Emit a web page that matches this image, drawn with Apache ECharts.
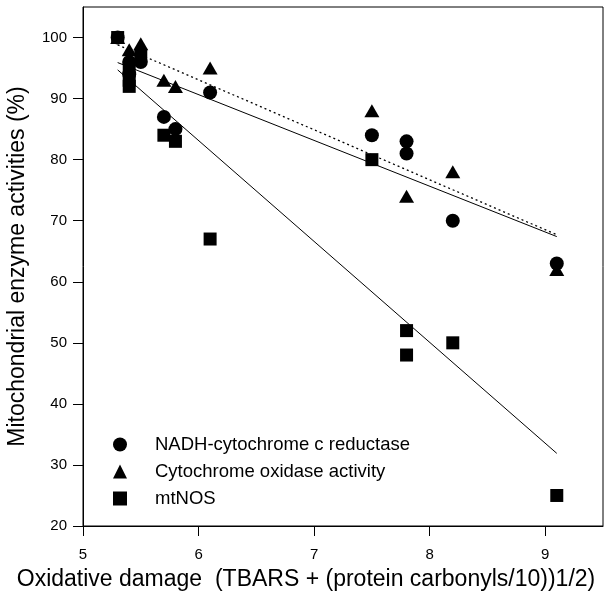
<!DOCTYPE html>
<html>
<head>
<meta charset="utf-8">
<script src="https://cdn.jsdelivr.net/npm/echarts@6/dist/echarts.min.js"></script>
<style>html,body{margin:0;padding:0;background:#fff}#c{width:613px;height:594px}</style>
</head>
<body>
<div id="c"></div>
<script>
// Data
var seriesNames = ['NADH-cytochrome c reductase', 'Cytochrome oxidase activity', 'mtNOS'];
var nadhX = [5.3, 5.4, 5.4, 5.5, 5.7, 5.8, 6.1, 7.5, 7.8, 7.8, 8.2, 9.1];
var nadhY = [100, 96, 94, 96, 87, 85, 91, 84, 83, 81, 70, 63];
var coxX = [5.3, 5.4, 5.5, 5.7, 5.8, 6.1, 7.5, 7.8, 8.2, 9.1];
var coxY = [100, 98, 99, 93, 92, 95, 88, 74, 78, 62];
var nosX = [5.3, 5.4, 5.4, 5.4, 5.5, 5.7, 5.8, 6.1, 7.5, 7.8, 7.8, 8.2, 9.1];
var nosY = [100, 95, 93, 92, 97, 84, 83, 67, 80, 52, 48, 50, 25];
// Fitted regression line end points (x, y)
var fitNadhX = [5.3, 9.1], fitNadhY = [95.9, 67.4];
var fitCoxX = [5.3, 9.1], fitCoxY = [98.8, 67.7];
var fitNosX = [5.3, 9.1], fitNosY = [94.7, 31.9];
var xTicks = [5, 6, 7, 8, 9];
var yTicks = [20, 30, 40, 50, 60, 70, 80, 90, 100];

function pairs(xs, ys) { return xs.map(function (x, i) { return [x, ys[i]]; }); }

var font = 'Liberation Sans, Arial, sans-serif';
var chart = echarts.init(document.getElementById('c'), null, {renderer: 'canvas'});
chart.setOption({
  animation: false,
  backgroundColor: '#fff',
  grid: {left: 83, right: 10, top: 7, bottom: 68, show: true, borderColor: '#000', borderWidth: 1,
    containLabel: false, outerBoundsMode: 'none'},
  xAxis: {
    type: 'value', min: 5, max: 9.5, interval: 1,
    name: 'Oxidative damage  (TBARS + (protein carbonyls/10))1/2)',
    nameLocation: 'middle', nameGap: 42,
    nameTextStyle: {fontFamily: font, fontSize: 23, color: '#000', padding: [0, 74, 0, 0]},
    axisLine: {lineStyle: {color: '#000', width: 1}},
    axisTick: {show: true, inside: false, length: 10, lineStyle: {color: '#000'}, customValues: xTicks},
    axisLabel: {fontFamily: font, fontSize: 15, color: '#000', margin: 21, customValues: xTicks},
    splitLine: {show: false}
  },
  yAxis: {
    type: 'value', min: 20, max: 105, interval: 10,
    name: 'Mitochondrial enzyme activities (%)',
    nameLocation: 'middle', nameGap: 54,
    nameTextStyle: {fontFamily: font, fontSize: 23, color: '#000'},
    axisLine: {lineStyle: {color: '#000', width: 1}},
    axisTick: {show: true, inside: false, length: 10, lineStyle: {color: '#000'}, customValues: yTicks},
    axisLabel: {fontFamily: font, fontSize: 15, color: '#000', margin: 16, customValues: yTicks},
    splitLine: {show: false}
  },
  legend: {
    orient: 'vertical', left: 108, top: 430, itemGap: 8,
    itemWidth: 14, itemHeight: 14,
    data: [
      {name: seriesNames[0], icon: 'circle'},
      {name: seriesNames[1], icon: 'triangle'},
      {name: seriesNames[2], icon: 'rect'}
    ],
    itemStyle: {opacity: 1},
    textStyle: {fontFamily: font, fontSize: 18.5, color: '#000', padding: [0, 0, 0, 23]}
  },
  series: [
    {type: 'line', data: pairs(fitNadhX, fitNadhY), symbol: 'none', silent: true,
      lineStyle: {color: '#000', width: 1, type: 'solid'}, z: 1},
    {type: 'line', data: pairs(fitCoxX, fitCoxY), symbol: 'none', silent: true,
      lineStyle: {color: '#000', width: 1.3, type: [2, 3]}, z: 1},
    {type: 'line', data: pairs(fitNosX, fitNosY), symbol: 'none', silent: true,
      lineStyle: {color: '#000', width: 1, type: 'solid'}, z: 1},
    {name: seriesNames[2], type: 'scatter', symbol: 'rect', symbolSize: 13,
      itemStyle: {color: '#000', opacity: 1}, data: pairs(nosX, nosY), z: 3},
    {name: seriesNames[1], type: 'scatter', symbol: 'triangle', symbolSize: [15, 13],
      itemStyle: {color: '#000', opacity: 1}, data: pairs(coxX, coxY), z: 3},
    {name: seriesNames[0], type: 'scatter', symbol: 'circle', symbolSize: 14,
      itemStyle: {color: '#000', opacity: 1}, data: pairs(nadhX, nadhY), z: 3}
  ]
});
</script>
</body>
</html>
